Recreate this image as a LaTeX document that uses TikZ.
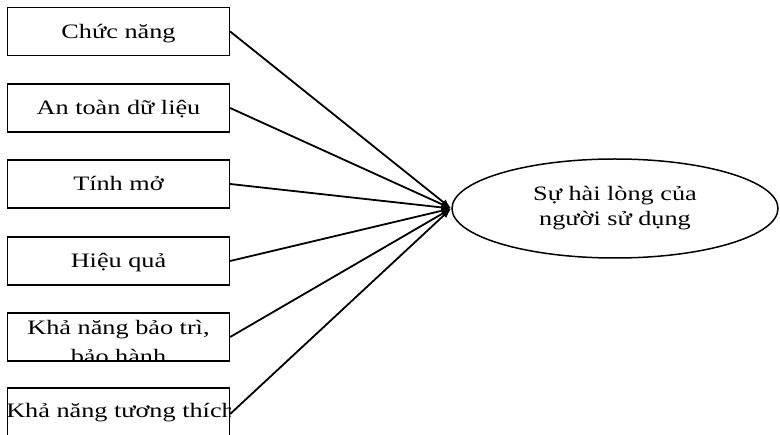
\documentclass[tikz,border=0pt]{standalone}
\usepackage{fontspec}
\setmainfont{Liberation Serif}
\usetikzlibrary{shapes.geometric,arrows.meta}
% Text in this figure is set a little wider than normal
\newcommand\wide[1]{\scalebox{1.28}[1]{#1}}
\begin{document}
\begin{tikzpicture}[x=1pt,y=-1pt,
  every node/.style={font=\fontsize{20.5}{25}\selectfont},
  box/.style={draw, line width=1.3pt, minimum width=222pt, minimum height=48pt,
    inner sep=0pt, text height=18pt, text depth=4pt},
  lbl/.style={inner sep=0pt, anchor=base},
  goalshape/.style={draw, ellipse, line width=1.5pt, minimum width=326pt,
    minimum height=99pt, inner sep=0pt, align=center},
  link/.style={line width=1.8pt, -{Latex[length=10pt,width=7pt]}}]
\useasboundingbox (0,0) rectangle (780,435);

% Factor boxes
\node[box] (f1) at (118.5,31.5) {\wide{Chức năng}};
\node[box] (f2) at (118.5,108) {\wide{An toàn dữ liệu}};
\node[box] (f3) at (118.5,184) {\wide{Tính mở}};
\node[box] (f4) at (118.5,261) {\wide{Hiệu quả}};
\node[box] (f5) at (118.5,337) {};
\node[box, minimum height=52pt] (f6) at (118.5,414) {};

% Box texts that run past their frames are cut off at the frame
\begin{scope}
  \clip (f5.south west) rectangle (f5.north east);
  \node[lbl] (t5a) at (118.5,335) {\wide{Khả năng bảo trì,}};
  \node[lbl] (t5b) at (118.5,364) {\wide{bảo hành}};
\end{scope}
\begin{scope}
  \clip (f6.south west) rectangle (f6.north east);
  \node[lbl] (t6) at (120.5,418) {\wide{Khả năng tương thích}};
\end{scope}

% Outcome
\node[goalshape] (goal) at (615,208.5) {\wide{Sự hài lòng của}\\\wide{người sử dụng}};

% Connectors
\foreach \f in {f1,f2,f3,f4,f5,f6}
  \draw[link] (\f.east) -- (goal.west);
\end{tikzpicture}
\end{document}
